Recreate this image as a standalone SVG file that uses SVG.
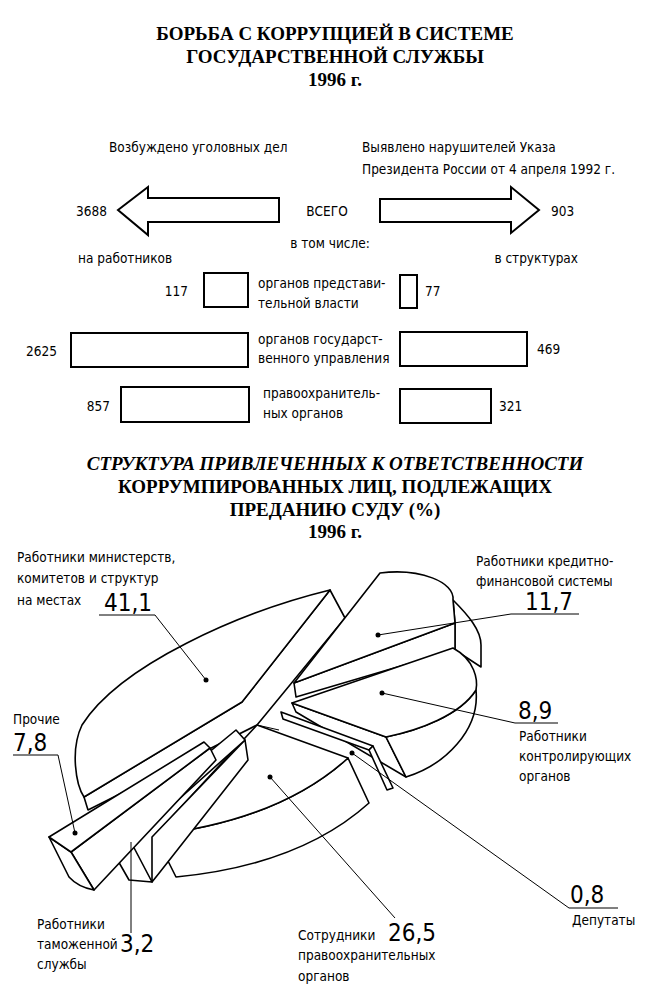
<svg xmlns="http://www.w3.org/2000/svg" width="670" height="1001" viewBox="0 0 670 1001">
<style>
.t{font-family:"Liberation Sans Narrow","DejaVu Sans Condensed","Liberation Sans",sans-serif;font-size:13.5px;fill:#000}
.n{font-family:"Liberation Sans Narrow","DejaVu Sans Condensed","Liberation Sans",sans-serif;font-size:24px;fill:#000}
.h{font-family:"Liberation Serif",serif;font-weight:bold;font-size:19px;text-anchor:middle;fill:#000}
.b{fill:#fff;stroke:#000;stroke-width:2}
.p{fill:#fff;stroke:#000;stroke-width:1.6;stroke-linejoin:round}
.l{fill:none;stroke:#000;stroke-width:1}
.d{fill:#000}
</style>
<rect width="670" height="1001" fill="#fff"/>
<g id="title1">
<text class="h" x="335" y="40">БОРЬБА С КОРРУПЦИЕЙ В СИСТЕМЕ</text>
<text class="h" x="335" y="63">ГОСУДАРСТВЕННОЙ СЛУЖБЫ</text>
<text class="h" x="335" y="86">1996 г.</text>
</g>
<g id="headers">
<text class="t" x="109" y="152">Возбуждено уголовных дел</text>
<text class="t" x="362" y="152">Выявлено нарушителей Указа</text>
<text class="t" x="362" y="174">Президента России от 4 апреля 1992 г.</text>
<text class="t" x="327" y="216" text-anchor="middle">ВСЕГО</text>
<text class="t" x="330" y="248" text-anchor="middle">в том числе:</text>
<text class="t" x="78" y="263">на работников</text>
<text class="t" x="578" y="263" text-anchor="end">в структурах</text>
</g>
<g id="arrow-left">
<polygon class="b" points="118,210 148,187 148,198 279,198 279,222 148,222 148,235"/>
<text class="t" x="107" y="216" text-anchor="end">3688</text>
</g>
<g id="arrow-right">
<polygon class="b" points="539,210 511,187 511,199 380,199 380,222 511,222 511,233"/>
<text class="t" x="551" y="216">903</text>
</g>
<g id="row1">
<rect class="b" x="204" y="273" width="44" height="34"/>
<rect class="b" x="400" y="275" width="17" height="33"/>
<text class="t" x="188" y="296" text-anchor="end">117</text>
<text class="t" x="425" y="296">77</text>
<text class="t" x="258" y="288">органов представи-</text>
<text class="t" x="258" y="308">тельной власти</text>
</g>
<g id="row2">
<rect class="b" x="71" y="333" width="177" height="34"/>
<rect class="b" x="400" y="332" width="127" height="34"/>
<text class="t" x="57" y="356" text-anchor="end">2625</text>
<text class="t" x="537" y="354">469</text>
<text class="t" x="258" y="344">органов государст-</text>
<text class="t" x="258" y="363">венного управления</text>
</g>
<g id="row3">
<rect class="b" x="121" y="387" width="128" height="35"/>
<rect class="b" x="400" y="389" width="91" height="34"/>
<text class="t" x="110" y="411" text-anchor="end">857</text>
<text class="t" x="499" y="411">321</text>
<text class="t" x="263" y="398">правоохранитель-</text>
<text class="t" x="263" y="418">ных органов</text>
</g>
<g id="title2">
<text class="h" x="335" y="470" font-style="italic">СТРУКТУРА ПРИВЛЕЧЕННЫХ К ОТВЕТСТВЕННОСТИ</text>
<text class="h" x="335" y="493">КОРРУМПИРОВАННЫХ ЛИЦ, ПОДЛЕЖАЩИХ</text>
<text class="h" x="335" y="516">ПРЕДАНИЮ СУДУ (%)</text>
<text class="h" x="335" y="538">1996 г.</text>
</g>
<g id="slice-ministries">
<path class="p" d="M330,590 L345,618 L257,725 L88,810 L84,797 L242,702 Z"/>
<path class="p" d="M330,590 C240,612 120,665 82,725 C70,750 76,785 84,797 L242,702 Z"/>
<circle class="d" cx="206" cy="680" r="2.5"/>
</g>
<g id="slice-credit">
<path class="p" d="M453,600 C468,615 481,630 481,645 L481,667 L455,650 L455,623 Z"/>
<path class="p" d="M294,683 L455,623 L455,650 L296,697 Z"/>
<path class="p" d="M294,683 L380,573 C420,568 455,582 453,600 L455,623 Z"/>
<circle class="d" cx="378" cy="635" r="2.5"/>
</g>
<g id="slice-control">
<path class="p" d="M292,703 L386,737 L406,777 L296,712 Z"/>
<path class="p" d="M386,737 L406,777 C445,765 480,730 476,690 C460,715 420,730 386,737 Z"/>
<path class="p" d="M292,703 L453,648 C475,660 478,680 476,690 C460,715 420,730 386,737 Z"/>
<circle class="d" cx="382" cy="693" r="2.5"/>
</g>
<g id="slice-deputies">
<path class="p" d="M281,712 L373,746 L369,750 L283,719 Z"/>
<path class="p" d="M373,746 L393,788 L387,790 L369,750 Z"/>
<circle class="d" cx="352" cy="753" r="2.5"/>
</g>
<g id="slice-law">
<path class="p" d="M348,758 L369,803 Q300,865 176,877 L155,835 Q280,820 348,758 Z"/>
<path class="p" d="M257,725 L348,758 Q280,820 155,835 Z"/>
<line class="l" x1="257" y1="725" x2="279" y2="730"/>
<circle class="d" cx="270" cy="777" r="2.5"/>
</g>
<g id="slice-customs">
<path class="p" d="M245,740 L152,837 L152,882 L160,872 L248,760 Z"/>
<path class="p" d="M105,838 L131,842 L152,882 L129,880 Z"/>
<path class="p" d="M236,730 L245,740 L131,842 L105,838 Z"/>
<circle class="d" cx="133" cy="827" r="2.5"/>
</g>
<g id="slice-other">
<path class="p" d="M210,748 L216,760 L94,890 L71,852 Z"/>
<path class="p" d="M49,837 L71,852 L94,890 Q78,887 69,877 Z"/>
<path class="p" d="M204,742 L210,748 L71,852 L49,837 Z"/>
<circle class="d" cx="75" cy="833" r="2.5"/>
</g>
<g id="connectors">
<polyline class="l" points="99,615 155,615 206,680"/>
<polyline class="l" points="579,614 511,614 378,635"/>
<polyline class="l" points="558,723 515,723 382,693"/>
<polyline class="l" points="618,908 569,908 352,753"/>
<line class="l" x1="270" y1="777" x2="395" y2="918"/>
<line class="l" x1="131" y1="842" x2="131" y2="933"/>
<polyline class="l" points="13,755 58,755 75,833"/>
</g>
<g id="labels">
<text class="t" x="17" y="562">Работники министерств,</text>
<text class="t" x="17" y="583">комитетов и структур</text>
<text class="t" x="17" y="605">на местах</text>
<text class="n" x="104" y="611">41,1</text>
<text class="t" x="476" y="566">Работники кредитно-</text>
<text class="t" x="476" y="586">финансовой системы</text>
<text class="n" x="525" y="610">11,7</text>
<text class="n" x="518" y="719">8,9</text>
<text class="t" x="519" y="741">Работники</text>
<text class="t" x="519" y="761">контролирующих</text>
<text class="t" x="519" y="781">органов</text>
<text class="n" x="570" y="903">0,8</text>
<text class="t" x="572" y="925">Депутаты</text>
<text class="t" x="298" y="940">Сотрудники</text>
<text class="n" x="388" y="941">26,5</text>
<text class="t" x="298" y="960">правоохранительных</text>
<text class="t" x="298" y="981">органов</text>
<text class="t" x="37" y="929">Работники</text>
<text class="t" x="37" y="949">таможенной</text>
<text class="t" x="37" y="969">службы</text>
<text class="n" x="120" y="952">3,2</text>
<text class="t" x="13" y="724">Прочие</text>
<text class="n" x="13" y="751">7,8</text>
</g>
</svg>
